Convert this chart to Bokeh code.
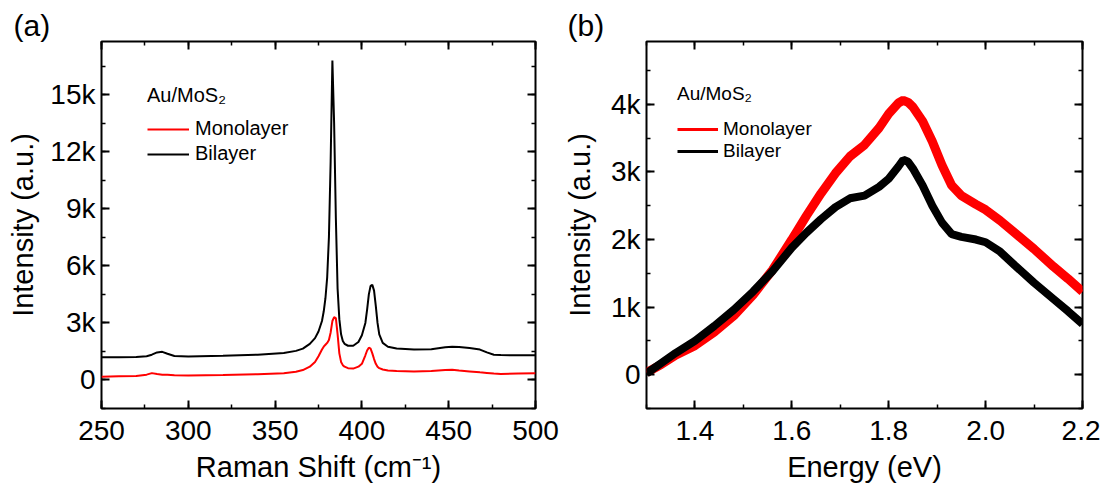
from bokeh.plotting import figure
from bokeh.models import (LinearAxis, SingleIntervalTicker, CustomJSTickFormatter,
                          NumeralTickFormatter, Range1d, Legend, LegendItem)
from bokeh.layouts import row
from bokeh.embed import file_html
from bokeh.resources import INLINE

FONT = "Liberation Sans"

# ---------------- data: panel (a) Raman ----------------
raman_shift = [250, 260, 270, 276, 279, 282, 285, 288, 292, 300, 320, 340, 355, 362, 366,
               370, 373, 375, 377, 378, 379, 380, 381, 382, 383, 384, 385, 386, 387, 388,
               389, 390, 392, 395, 398, 400, 402, 403, 404, 405, 406, 407, 408, 409, 410,
               412, 415, 420, 430, 440, 448, 452, 456, 462, 468, 472, 476, 480, 490, 500]
raman_mono = [170, 190, 210, 280, 360, 310, 280, 270, 250, 240, 260, 300, 360, 430, 520,
              700, 950, 1250, 1600, 1750, 1850, 1950, 2100, 2500, 3100, 3300, 3250, 2400, 1400, 950,
              780, 700, 620, 600, 700, 850, 1300, 1550, 1700, 1650, 1400, 1100, 850, 700, 620,
              550, 500, 470, 440, 470, 530, 540, 500, 450, 400, 370, 340, 320, 340, 360]
raman_bi = [1200, 1200, 1210, 1250, 1330, 1450, 1480, 1380, 1260, 1240, 1270, 1330, 1420, 1530, 1650,
            1900, 2200, 2550, 3100, 3600, 4300, 5400, 7500, 11500, 16800, 13500, 8500, 4800, 3200, 2400,
            2050, 1900, 1800, 1800, 2000, 2350, 3000, 3700, 4500, 4950, 5000, 4700, 3900, 3000, 2400,
            1950, 1750, 1650, 1600, 1620, 1720, 1750, 1730, 1680, 1600, 1450, 1330, 1310, 1300, 1300]

# ---------------- data: panel (b) PL ----------------
energy = [1.30, 1.33, 1.36, 1.40, 1.44, 1.48, 1.52, 1.56, 1.60, 1.63, 1.66, 1.69, 1.72, 1.75,
          1.78, 1.80, 1.82, 1.83, 1.84, 1.85, 1.87, 1.89, 1.91, 1.93, 1.95, 1.98, 2.00, 2.03,
          2.06, 2.10, 2.14, 2.17, 2.20]
pl_mono = [30, 150, 290, 430, 630, 870, 1180, 1550, 2000, 2350, 2680, 2980, 3230, 3400,
           3650, 3860, 4020, 4060, 4030, 3960, 3750, 3450, 3100, 2800, 2650, 2520, 2440, 2280,
           2100, 1860, 1600, 1420, 1230]
pl_bi = [20, 170, 320, 500, 720, 960, 1230, 1530, 1880, 2100, 2300, 2480, 2610, 2650,
         2780, 2900, 3080, 3180, 3150, 3050, 2800, 2500, 2250, 2080, 2040, 2000, 1960, 1820,
         1620, 1360, 1120, 940, 750]

labels = ["Monolayer", "Bilayer"]
legend_title = "Au/MoS\u2082"
panel_tags = ["(a)", "(b)"]

kfmt = CustomJSTickFormatter(code="return tick == 0 ? '0' : (tick/1000).toFixed(0) + 'k';")
blank = CustomJSTickFormatter(code="return '';")


def style_axis(ax, show_labels=True):
    ax.axis_line_color = None
    ax.major_tick_in = 8
    ax.major_tick_out = 0
    ax.minor_tick_in = 4
    ax.minor_tick_out = 0
    ax.major_tick_line_width = 2
    ax.minor_tick_line_width = 1.5
    ax.major_tick_line_color = "black"
    ax.minor_tick_line_color = "black"
    ax.axis_label_text_font = FONT
    ax.axis_label_text_font_size = "29px"
    ax.axis_label_text_font_style = "normal"
    ax.axis_label_text_color = "black"
    ax.major_label_text_font = FONT
    ax.major_label_text_color = "black"
    if show_labels:
        ax.major_label_text_font_size = "28px"
    else:
        ax.formatter = blank
        ax.major_label_text_font_size = "1px"
        ax.major_label_standoff = 0
        ax.axis_label = None


def make_fig(width, xr, yr, xticker, yticker, xfmt, xlabel, ylabel, bl, br, tag, tag_off):
    p = figure(width=width, height=489, x_range=Range1d(*xr), y_range=Range1d(*yr),
               output_backend="svg", toolbar_location=None,
               x_axis_label=xlabel, y_axis_label=ylabel,
               min_border_left=bl, min_border_right=br, min_border_top=41, min_border_bottom=81)
    p.xgrid.visible = False
    p.ygrid.visible = False
    p.outline_line_color = "black"
    p.outline_line_width = 2
    p.outline_line_alpha = 1
    p.xaxis.ticker = xticker
    p.yaxis.ticker = yticker
    p.xaxis.formatter = xfmt
    p.yaxis.formatter = kfmt
    for ax in p.xaxis + p.yaxis:
        style_axis(ax)
    p.xaxis.major_label_standoff = 12
    p.xaxis.axis_label_standoff = 8
    p.yaxis.major_label_standoff = 6
    top = LinearAxis(ticker=xticker)
    right = LinearAxis(ticker=yticker)
    style_axis(top, False)
    style_axis(right, False)
    p.add_layout(top, "above")
    p.add_layout(right, "right")
    p.title.text = tag
    p.title.align = "left"
    p.title.offset = tag_off
    p.title.standoff = 0
    p.title.text_font = FONT
    p.title.text_font_size = "30px"
    p.title.text_font_style = "normal"
    p.title.text_color = "black"
    return p


def style_legend(leg, spacing, size, standoff):
    leg.background_fill_alpha = 0
    leg.border_line_color = None
    leg.padding = 0
    leg.margin = 0
    leg.spacing = spacing
    leg.glyph_width = 42
    leg.glyph_height = 18
    leg.label_height = 18
    leg.label_standoff = 6
    leg.label_text_font = FONT
    leg.label_text_font_size = size
    leg.label_text_color = "black"
    leg.title_text_font = FONT
    leg.title_text_font_size = size
    leg.title_text_font_style = "normal"
    leg.title_text_color = "black"
    leg.title_standoff = standoff


# ---------------- panel (a) ----------------
pa = make_fig(560, (250, 500), (-1500, 17800),
              SingleIntervalTicker(interval=50, num_minor_ticks=2),
              SingleIntervalTicker(interval=3000, num_minor_ticks=2),
              NumeralTickFormatter(format="0"),
              "Raman Shift (cm\u207b\u00b9)", "Intensity (a.u.)", 101, 25, panel_tags[0], -88)
pa.yaxis[0].axis_label_standoff = 8
ra_m = pa.line(raman_shift, raman_mono, line_color="#ff0000", line_width=2)
ra_b = pa.line(raman_shift, raman_bi, line_color="black", line_width=2)
leg_a = Legend(items=[LegendItem(label=labels[0], renderers=[ra_m]),
                      LegendItem(label=labels[1], renderers=[ra_b])],
               title=legend_title, location=(46, 243))
style_legend(leg_a, 2, "20px", 10)
pa.add_layout(leg_a)

# ---------------- panel (b) ----------------
pb = make_fig(540, (1.3, 2.2), (-500, 4930),
              SingleIntervalTicker(interval=0.2, num_minor_ticks=2),
              SingleIntervalTicker(interval=1000, num_minor_ticks=2),
              NumeralTickFormatter(format="0.0"),
              "Energy (eV)", "Intensity (a.u.)", 86, 18, panel_tags[1], -79)
pb.yaxis[0].axis_label_standoff = 12
# thin copies (legend samples), hidden beneath the thick noisy-looking traces
lg_m = pb.line(energy, pl_mono, line_color="#ff0000", line_width=3)
lg_b = pb.line(energy, pl_bi, line_color="black", line_width=3)
pb.line(energy, pl_mono, line_color="#ff0000", line_width=9)
pb.line(energy, pl_bi, line_color="black", line_width=8)
leg_b = Legend(items=[LegendItem(label=labels[0], renderers=[lg_m]),
                      LegendItem(label=labels[1], renderers=[lg_b])],
               title=legend_title, location=(31, 246))
style_legend(leg_b, 0, "19px", 13)
leg_b.glyph_width = 41
leg_b.label_standoff = 5
pb.add_layout(leg_b)

layout = row(pa, pb)
open("out.html", "w").write(file_html(layout, INLINE))
